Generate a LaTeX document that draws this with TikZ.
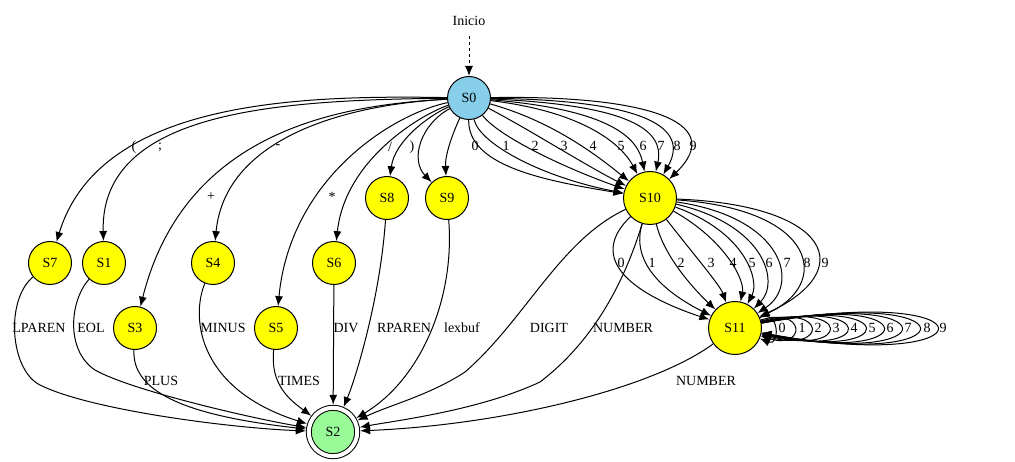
\documentclass[tikz,border=0pt]{standalone}
\usepackage{fontspec}
\setmainfont{Liberation Serif}
\usetikzlibrary{arrows.meta}
\definecolor{skyblue}{HTML}{87CEEB}
\definecolor{palegreen}{HTML}{98FB98}
\definecolor{stateyellow}{HTML}{FFFF00}
\tikzset{
  state/.style={circle, draw, line width=1pt, fill=stateyellow, minimum size=43pt, inner sep=0pt},
  bigstate/.style={state, minimum size=53pt},
  edge/.style={line width=1pt, -{Latex[length=10pt,width=8pt]}},
  lbl/.style={inner sep=0pt}
}

\begin{document}
\begin{tikzpicture}[x=1pt, y=-1pt, font=\fontsize{14}{16}\selectfont]
	\useasboundingbox (0,0) rectangle (1015,462);
	% states
	\node (ini) at (469,21) {Inicio};
	\node[state, fill=skyblue] (S0) at (469,98) {S0};
	\node[state] (S7) at (50,263) {S7};
	\node[state] (S1) at (104,263) {S1};
	\node[state] (S3) at (135,328) {S3};
	\node[state] (S4) at (213,263) {S4};
	\node[state] (S5) at (276,328) {S5};
	\node[state] (S6) at (334,263) {S6};
	\node[state] (S8) at (387,198) {S8};
	\node[state] (S9) at (447,198) {S9};
	\node[bigstate] (S10) at (650,198) {S10};
	\node[bigstate] (S11) at (735,328) {S11};
	\node[state, fill=palegreen, minimum size=48.4pt, double, double distance=4pt, outer sep=3pt] (S2) at (333,432) {S2};
	\draw[edge, dashed, shorten <=7pt] (ini) -- (S0);
	% from S0
	\draw[edge] (S0) .. controls (300,95) and (100,100) .. (S7);
	\draw[edge] (S0) .. controls (280,100) and (100,110) .. (S1);
	\draw[edge] (S0) .. controls (340,105) and (185,130) .. (S3);
	\draw[edge] (S0) .. controls (340,105) and (225,140) .. (S4);
	\draw[edge] (S0) .. controls (390,115) and (290,180) .. (S5);
	\draw[edge] (S0) .. controls (420,115) and (345,160) .. (S6);
	\draw[edge] (S0) .. controls (430,115) and (395,140) .. (S8);
	\draw[edge] (S0) .. controls (420,125) and (410,160) .. (S9);
	\draw[edge] (S0) .. controls (452,135) and (445,155) .. (S9);
	\node[lbl] (lp) at (134,147) {(};
	\node[lbl] (sc) at (160,147) {;};
	\node[lbl] (pl) at (211,197) {+};
	\node[lbl] (mi) at (278,147) {-};
	\node[lbl] (ti) at (332,197) {*};
	\node[lbl] (dv) at (390,147) {/};
	\node[lbl] (rp) at (412,147) {)};
	\foreach \ax/\ay/\bx/\by in {468/165/540/180, 480/145/545/178, 500/138/570/170, 530/130/585/165, 555/122/600/158,
	  585/112/622/145, 615/110/638/140, 630/105/665/130, 635/100/692/124, 640/95/730/120}
	  \draw[edge] (S0) .. controls (\ax,\ay) and (\bx,\by) .. (S10);
	\foreach \d/\x in {0/475,1/506,2/535,3/564,4/593,5/621,6/643,7/661,8/677,9/693}
	  \node[lbl] (a\d) at (\x,146) {\d};
	% from S10
	\foreach \ax/\ay/\bx/\by in {580/265/650/300, 628/270/680/300, 665/260/700/295, 690/250/720/285, 725/240/745/280,
	  745/232/760/280, 765/225/780/282, 785/218/800/285, 820/210/830/285, 830/205/860/270}
	  \draw[edge] (S10) .. controls (\ax,\ay) and (\bx,\by) .. (S11);
	\foreach \d/\x in {0/621,1/652,2/681,3/711,4/733,5/752,6/769,7/787,8/807,9/825}
	  \node[lbl] (b\d) at (\x,263) {\d};
	% loops on S11
	\foreach \d/\c/\h in {0/780/19, 1/806/22, 2/828/25, 3/852/28, 4/876/31, 5/900/34, 6/924/38, 7/948/41, 8/972/44, 9/996/47}
	  \draw[edge] (S11) .. controls (\c,{328-\h}) and (\c,{328+\h}) .. (S11);
	\foreach \d/\x in {0/782,1/802,2/818,3/836,4/854,5/872,6/890,7/908,8/927,9/943}
	  \node[lbl] (c\d) at (\x,328) {\d};
	% into S2
	\draw[edge] (S7) .. controls (5,300) and (10,370) .. (40,385) .. controls (90,410) and (230,428) .. (S2);
	\draw[edge] (S1) .. controls (70,300) and (65,350) .. (95,370) .. controls (130,390) and (250,418) .. (S2);
	\draw[edge] (S3) .. controls (132,390) and (180,415) .. (S2);
	\draw[edge] (S4) .. controls (190,320) and (200,390) .. (S2);
	\draw[edge] (S5) .. controls (270,385) and (290,400) .. (S2);
	\draw[edge] (S6) -- (S2);
	\draw[edge] (S8) .. controls (380,300) and (355,380) .. (S2);
	\draw[edge] (S9) .. controls (455,300) and (420,380) .. (S2);
	\draw[edge] (S10) .. controls (560,240) and (525,320) .. (465,372) .. controls (430,395) and (390,405) .. (S2);
	\draw[edge] (S10) .. controls (625,280) and (595,340) .. (540,382) .. controls (480,410) and (400,420) .. (S2);
	\draw[edge] (S11) .. controls (650,390) and (500,425) .. (S2);
	\node[lbl] (tLP) at (39,328) {LPAREN};
	\node[lbl] (tEOL) at (91,328) {EOL};
	\node[lbl] (tPL) at (161,381) {PLUS};
	\node[lbl] (tMI) at (223,328) {MINUS};
	\node[lbl] (tTI) at (299,381) {TIMES};
	\node[lbl] (tDV) at (346,328) {DIV};
	\node[lbl] (tRP) at (404,328) {RPAREN};
	\node[lbl] (tLB) at (462,328) {lexbuf};
	\node[lbl] (tDG) at (549,328) {DIGIT};
	\node[lbl] (tNA) at (623,328) {NUMBER};
	\node[lbl] (tNB) at (706,381) {NUMBER};
\end{tikzpicture}
\end{document}
